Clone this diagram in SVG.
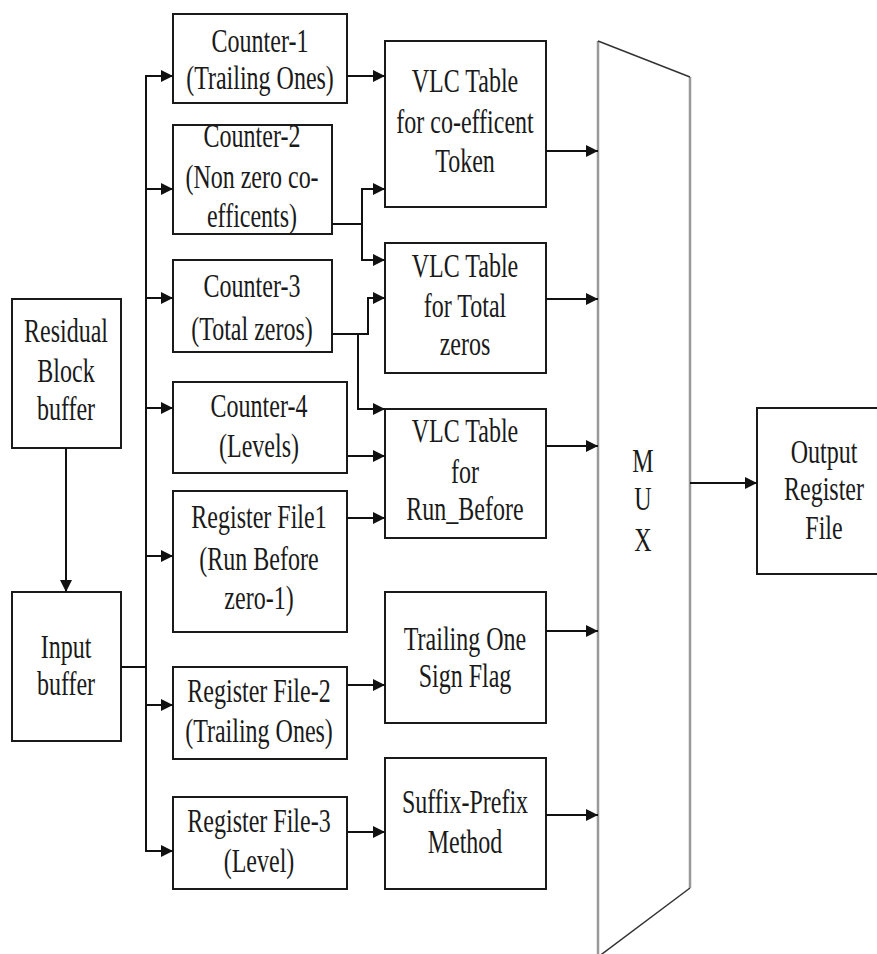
<svg xmlns="http://www.w3.org/2000/svg" width="877" height="954" viewBox="0 0 877 954">
<style>
.box{fill:#fff;stroke:#1a1a1a;stroke-width:2}
.t{font-family:"Liberation Serif","Times New Roman",serif;font-size:24px;fill:#1a1a1a;text-anchor:middle}
.c{fill:none;stroke:#111;stroke-width:2}
.muxv{stroke:#999;stroke-width:2.5;fill:none}
.muxd{stroke:#333;stroke-width:1.5;fill:none}
</style>
<defs>
<marker id="ah" markerUnits="userSpaceOnUse" markerWidth="13" markerHeight="12" refX="12" refY="6" orient="auto">
<path d="M0,0 L12,6 L0,12 z" fill="#111"/>
</marker>
</defs>
<rect width="877" height="954" fill="#fff"/>

<g id="residual">
<rect class="box" x="12" y="299" width="109" height="149"/>
<text class="t" transform="translate(66 342) scale(1 1.4)">Residual</text>
<text class="t" transform="translate(66 382) scale(1 1.4)">Block</text>
<text class="t" transform="translate(66 420) scale(1 1.4)">buffer</text>
</g>
<g id="input">
<rect class="box" x="12" y="592" width="109" height="149"/>
<text class="t" transform="translate(66 658) scale(1 1.4)">Input</text>
<text class="t" transform="translate(66 695) scale(1 1.4)">buffer</text>
</g>
<g id="counter1">
<rect class="box" x="173" y="14" width="174" height="89"/>
<text class="t" transform="translate(260 52) scale(1 1.4)">Counter-1</text>
<text class="t" transform="translate(260 89) scale(1 1.4)">(Trailing Ones)</text>
</g>
<g id="counter2">
<rect class="box" x="173" y="125" width="159" height="109"/>
<text class="t" transform="translate(252 147) scale(1 1.4)">Counter-2</text>
<text class="t" transform="translate(252 188) scale(1 1.4)">(Non zero co-</text>
<text class="t" transform="translate(252 227) scale(1 1.4)">efficents)</text>
</g>
<g id="counter3">
<rect class="box" x="173" y="260" width="159" height="92"/>
<text class="t" transform="translate(252 297) scale(1 1.4)">Counter-3</text>
<text class="t" transform="translate(252 340) scale(1 1.4)">(Total zeros)</text>
</g>
<g id="counter4">
<rect class="box" x="173" y="382" width="174" height="91"/>
<text class="t" transform="translate(259 417) scale(1 1.4)">Counter-4</text>
<text class="t" transform="translate(259 457) scale(1 1.4)">(Levels)</text>
</g>
<g id="regfile1">
<rect class="box" x="173" y="491" width="174" height="141"/>
<text class="t" transform="translate(259 528) scale(1 1.4)">Register File1</text>
<text class="t" transform="translate(259 570) scale(1 1.4)">(Run Before</text>
<text class="t" transform="translate(259 609) scale(1 1.4)">zero-1)</text>
</g>
<g id="regfile2">
<rect class="box" x="173" y="667" width="174" height="92"/>
<text class="t" transform="translate(259 702) scale(1 1.4)">Register File-2</text>
<text class="t" transform="translate(259 742) scale(1 1.4)">(Trailing Ones)</text>
</g>
<g id="regfile3">
<rect class="box" x="173" y="797" width="174" height="92"/>
<text class="t" transform="translate(259 832) scale(1 1.4)">Register File-3</text>
<text class="t" transform="translate(259 872) scale(1 1.4)">(Level)</text>
</g>
<g id="vlc1">
<rect class="box" x="385" y="41" width="161" height="166"/>
<text class="t" transform="translate(465 92) scale(1 1.4)">VLC Table</text>
<text class="t" transform="translate(465 133) scale(1 1.4)">for co-efficent</text>
<text class="t" transform="translate(465 172) scale(1 1.4)">Token</text>
</g>
<g id="vlc2">
<rect class="box" x="385" y="243" width="161" height="130"/>
<text class="t" transform="translate(465 277) scale(1 1.4)">VLC Table</text>
<text class="t" transform="translate(465 317) scale(1 1.4)">for Total</text>
<text class="t" transform="translate(465 355) scale(1 1.4)">zeros</text>
</g>
<g id="vlc3">
<rect class="box" x="385" y="409" width="161" height="129"/>
<text class="t" transform="translate(465 442) scale(1 1.4)">VLC Table</text>
<text class="t" transform="translate(465 483) scale(1 1.4)">for</text>
<text class="t" transform="translate(465 520) scale(1 1.4)">Run_Before</text>
</g>
<g id="tosf">
<rect class="box" x="385" y="592" width="161" height="131"/>
<text class="t" transform="translate(465 650) scale(1 1.4)">Trailing One</text>
<text class="t" transform="translate(465 687) scale(1 1.4)">Sign Flag</text>
</g>
<g id="suffix">
<rect class="box" x="385" y="758" width="161" height="131"/>
<text class="t" transform="translate(465 813) scale(1 1.4)">Suffix-Prefix</text>
<text class="t" transform="translate(465 853) scale(1 1.4)">Method</text>
</g>
<g id="mux">
<polygon points="598,41 690,77 690,888 598,957" fill="#fff" stroke="none"/>
<line class="muxv" x1="598" y1="41" x2="598" y2="960"/>
<line class="muxv" x1="690" y1="77" x2="690" y2="888"/>
<line class="muxd" x1="598" y1="41" x2="690" y2="77"/>
<line class="muxd" x1="690" y1="888" x2="598" y2="957"/>
<text class="t" transform="translate(643 472) scale(1 1.4)">M</text>
<text class="t" transform="translate(643 510) scale(1 1.4)">U</text>
<text class="t" transform="translate(643 551) scale(1 1.4)">X</text>
</g>
<g id="output">
<rect class="box" x="757" y="408" width="125" height="166"/>
<text class="t" transform="translate(824 463) scale(1 1.4)">Output</text>
<text class="t" transform="translate(824 500) scale(1 1.4)">Register</text>
<text class="t" transform="translate(824 539) scale(1 1.4)">File</text>
</g>

<g id="connectors">
<line class="c" x1="66" y1="448" x2="66" y2="592" marker-end="url(#ah)"/>
<line class="c" x1="121" y1="667" x2="146" y2="667"/>
<line class="c" x1="146" y1="75" x2="146" y2="852"/>
<line class="c" x1="145" y1="76" x2="173" y2="76" marker-end="url(#ah)"/>
<line class="c" x1="145" y1="189" x2="173" y2="189" marker-end="url(#ah)"/>
<line class="c" x1="145" y1="298" x2="173" y2="298" marker-end="url(#ah)"/>
<line class="c" x1="145" y1="408" x2="173" y2="408" marker-end="url(#ah)"/>
<line class="c" x1="145" y1="556" x2="173" y2="556" marker-end="url(#ah)"/>
<line class="c" x1="145" y1="705" x2="173" y2="705" marker-end="url(#ah)"/>
<line class="c" x1="145" y1="851" x2="173" y2="851" marker-end="url(#ah)"/>
<line class="c" x1="347" y1="76" x2="385" y2="76" marker-end="url(#ah)"/>
<polyline class="c" points="332,224 362,224"/>
<line class="c" x1="362" y1="188" x2="362" y2="261"/>
<line class="c" x1="361" y1="189" x2="385" y2="189" marker-end="url(#ah)"/>
<line class="c" x1="361" y1="260" x2="385" y2="260" marker-end="url(#ah)"/>
<polyline class="c" points="332,334 368,334 368,298 385,298" marker-end="url(#ah)"/>
<polyline class="c" points="358,334 358,409 385,409" marker-end="url(#ah)"/>
<line class="c" x1="347" y1="456" x2="385" y2="456" marker-end="url(#ah)"/>
<line class="c" x1="347" y1="518" x2="385" y2="518" marker-end="url(#ah)"/>
<line class="c" x1="347" y1="685" x2="385" y2="685" marker-end="url(#ah)"/>
<line class="c" x1="347" y1="832" x2="385" y2="832" marker-end="url(#ah)"/>
<line class="c" x1="546" y1="151" x2="598" y2="151" marker-end="url(#ah)"/>
<line class="c" x1="546" y1="299" x2="598" y2="299" marker-end="url(#ah)"/>
<line class="c" x1="546" y1="446" x2="598" y2="446" marker-end="url(#ah)"/>
<line class="c" x1="546" y1="631" x2="598" y2="631" marker-end="url(#ah)"/>
<line class="c" x1="546" y1="815" x2="598" y2="815" marker-end="url(#ah)"/>
<line class="c" x1="690" y1="483" x2="757" y2="483" marker-end="url(#ah)"/>
</g>
</svg>
